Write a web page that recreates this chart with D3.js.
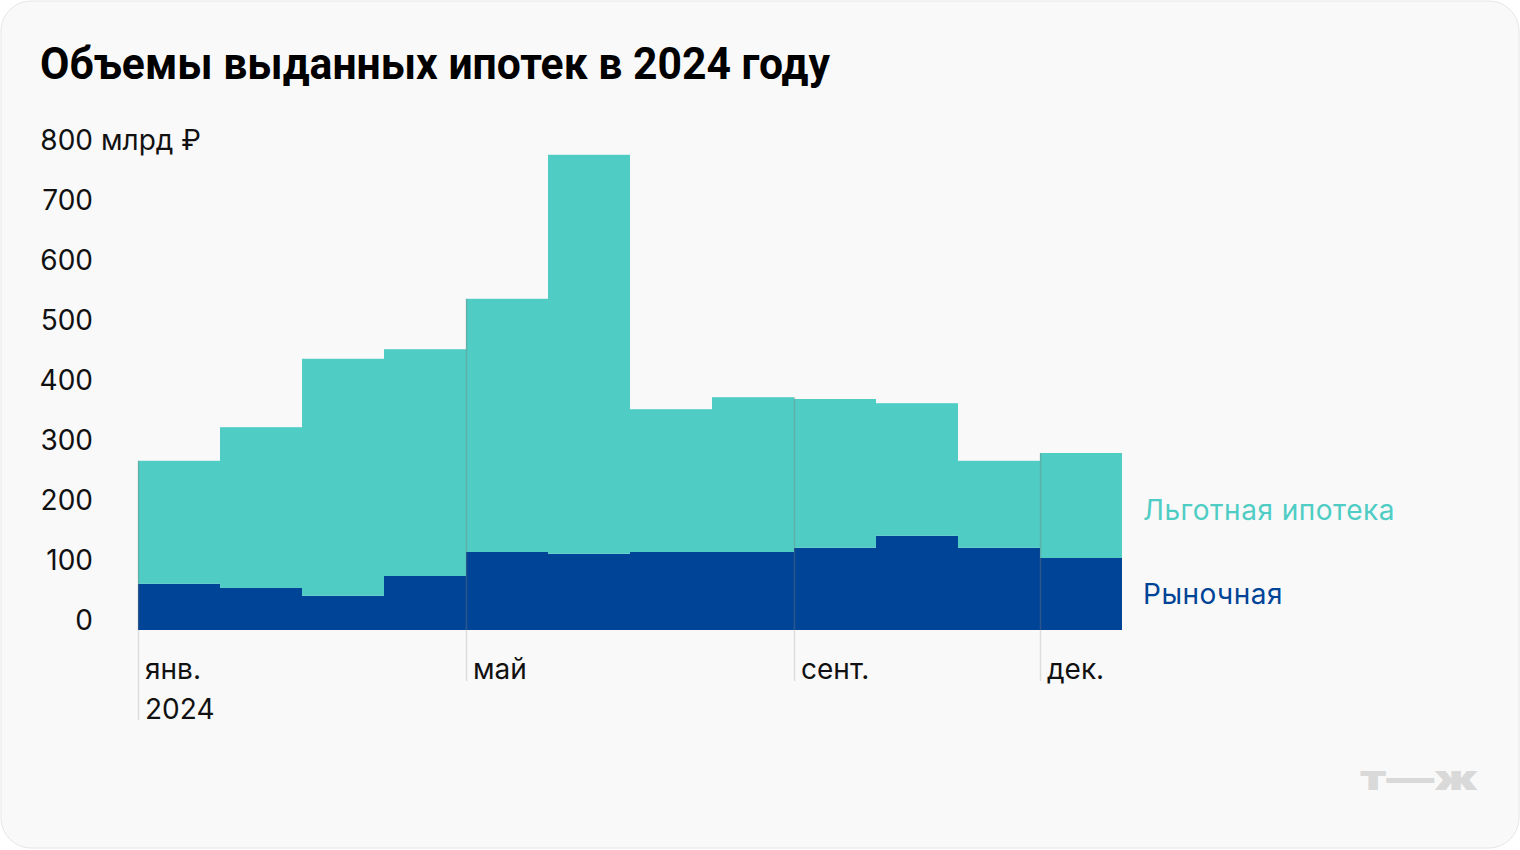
<!DOCTYPE html>
<html lang="ru">
<head>
  <meta charset="UTF-8">
  <title>Объемы выданных ипотек в 2024 году</title>
  <script src="https://d3js.org/d3.v7.min.js"></script>
  <style>
    body { margin: 0; background: #fff; }
    text { font-family: Inter, "Noto Sans", sans-serif; }
    .title { font-family: Roboto, sans-serif; font-weight: 700; }
    .legend { letter-spacing: 0.5px; }
  </style>
</head>
<body>
  <div id="chart"></div>
  <script>
    // data, млрд ₽
    const months = ["янв.", "февр.", "март", "апр.", "май", "июнь", "июль", "авг.", "сент.", "окт.", "нояб.", "дек."];
    const market = [77, 70, 57, 90, 130, 127, 130, 130, 137, 157, 137, 120];
    const total = [282, 338, 452, 468, 552, 792, 368, 388, 385, 378, 282, 295];
    const preferential = total.map((t, i) => t - market[i]);
    const yTicks = [0, 100, 200, 300, 400, 500, 600, 700, 800];
    const shownMonths = ["янв.", "май", "сент.", "дек."];

    const W = 1520, H = 850;
    const teal = "#4fcdc4", navy = "#004497";

    const svg = d3.select("#chart").append("svg")
      .attr("width", W)
      .attr("height", H);

    svg.append("rect")
      .attr("x", 1).attr("y", 1)
      .attr("width", W - 2).attr("height", H - 3)
      .attr("rx", 30)
      .attr("fill", "#f9f9f9")
      .attr("stroke", "#e6e6e6");

    svg.append("text")
      .attr("class", "title")
      .attr("x", 40).attr("y", 79)
      .attr("font-size", 45)
      .attr("textLength", 790)
      .attr("lengthAdjust", "spacingAndGlyphs")
      .attr("fill", "#000")
      .text("Объемы выданных ипотек в 2024 году");

    const x = d3.scaleBand().domain(months).range([138, 1122]).padding(0);
    const y = d3.scaleLinear().domain([0, 800]).range([630, 150]);

    // y labels
    const yAxis = svg.append("g");
    yAxis.selectAll("text")
      .data(yTicks)
      .enter()
      .append("text")
      .attr("x", 93)
      .attr("y", d => y(d))
      .attr("text-anchor", "end")
      .attr("font-size", 28)
      .attr("fill", "#111")
      .text(d => d);
    yAxis.append("text")
      .attr("x", 101)
      .attr("y", y(800))
      .attr("font-size", 28)
      .attr("fill", "#111")
      .text("млрд ₽");

    // tick lines below the baseline
    const tickG = svg.append("g");
    tickG.selectAll("line")
      .data(shownMonths)
      .enter()
      .append("line")
      .attr("x1", d => x(d) + 0.5)
      .attr("x2", d => x(d) + 0.5)
      .attr("y1", y(0))
      .attr("y2", d => d === "янв." ? 720 : 681)
      .attr("stroke", "#dedede")
      .attr("stroke-width", 1.5);

    // stacked bars
    const bars = svg.append("g");
    bars.selectAll(".market")
      .data(months)
      .enter()
      .append("rect")
      .attr("x", d => x(d))
      .attr("width", x.bandwidth())
      .attr("y", (d, i) => y(market[i]))
      .attr("height", (d, i) => y(0) - y(market[i]))
      .attr("fill", navy);

    bars.selectAll(".pref")
      .data(months)
      .enter()
      .append("rect")
      .attr("x", d => x(d))
      .attr("width", x.bandwidth())
      .attr("y", (d, i) => y(market[i] + preferential[i]))
      .attr("height", (d, i) => y(market[i]) - y(market[i] + preferential[i]))
      .attr("fill", teal);

    // separators drawn over the bars
    svg.append("g").selectAll("line")
      .data(shownMonths)
      .enter()
      .append("line")
      .attr("x1", d => x(d) + 0.5)
      .attr("x2", d => x(d) + 0.5)
      .attr("y1", d => {
        const i = months.indexOf(d);
        const prev = i > 0 ? total[i - 1] : 0;
        return y(Math.max(prev, total[i]));
      })
      .attr("y2", y(0))
      .attr("stroke", "rgba(120,120,120,0.35)")
      .attr("stroke-width", 1.5);

    // month labels
    svg.append("g").selectAll("text")
      .data(shownMonths)
      .enter()
      .append("text")
      .attr("x", d => x(d) + 7)
      .attr("y", 679)
      .attr("font-size", 28)
      .attr("fill", "#111")
      .text(d => d);
    svg.append("text")
      .attr("x", x("янв.") + 7)
      .attr("y", 719)
      .attr("font-size", 28)
      .attr("fill", "#111")
      .text("2024");

    // series labels
    svg.append("text")
      .attr("class", "legend")
      .attr("x", 1143).attr("y", 520)
      .attr("font-size", 28)
      .attr("fill", teal)
      .text("Льготная ипотека");
    svg.append("text")
      .attr("class", "legend")
      .attr("x", 1143).attr("y", 604)
      .attr("font-size", 28)
      .attr("fill", navy)
      .text("Рыночная");

    // logo
    svg.append("text")
      .attr("x", 1360).attr("y", 790)
      .attr("font-family", "Roboto, sans-serif")
      .attr("font-weight", 900)
      .attr("font-size", 34)
      .attr("textLength", 118)
      .attr("lengthAdjust", "spacingAndGlyphs")
      .attr("fill", "#d9d9d9")
      .text("т—ж");
  </script>
</body>
</html>
